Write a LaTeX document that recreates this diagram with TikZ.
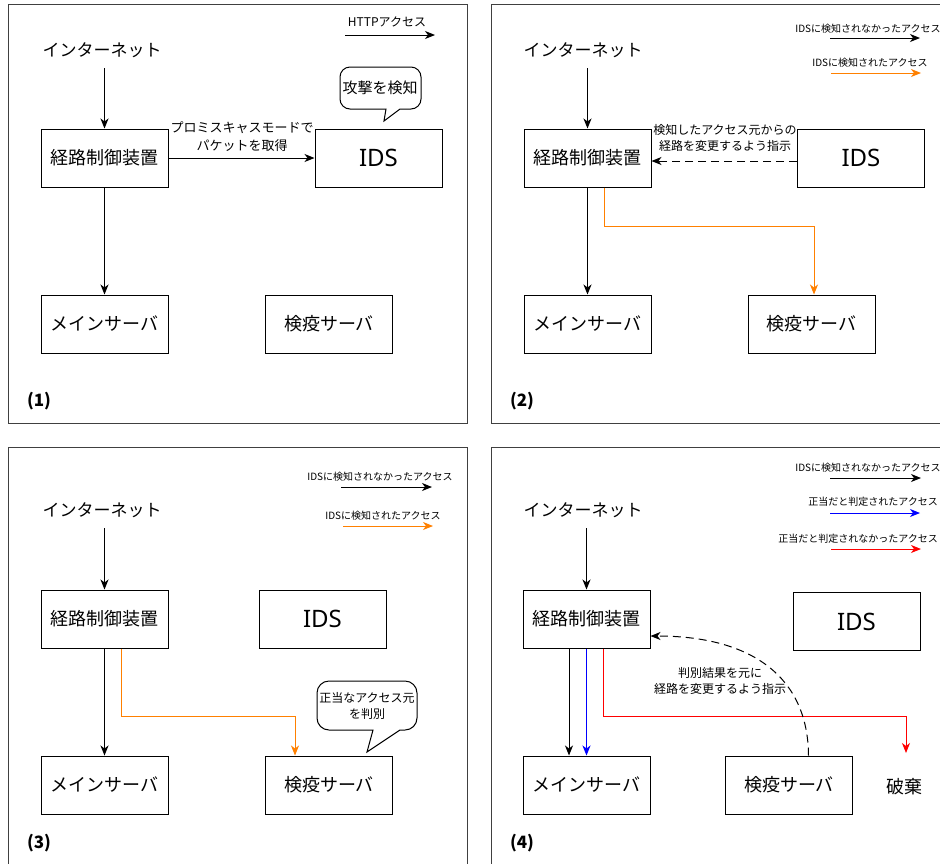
\documentclass[tikz,border=0pt]{standalone}
\usepackage{fontspec}
\setmainfont{Noto Sans CJK JP}
\newfontfamily\latinfont{Noto Sans}
\usetikzlibrary{arrows.meta}
\definecolor{acorange}{HTML}{FF8000}
\definecolor{acblue}{HTML}{0000FF}
\definecolor{acred}{HTML}{FF0000}
\begin{document}
\begin{tikzpicture}[x=1pt,y=-1pt,
  frame/.style={draw=black!75, line width=0.9pt},
  box/.style={draw, line width=1pt, minimum width=127pt, minimum height=58pt, inner sep=0pt, font=\fontsize{18}{21}\selectfont},
  idsbox/.style={box, font=\fontsize{24}{28}\selectfont\latinfont},
  inet/.style={minimum height=36pt, inner sep=0pt, font=\fontsize{17}{20}\selectfont},
  arr/.style={line width=1pt, -{Stealth[length=10pt,width=8pt,inset=3pt]}},
  lbl/.style={align=center, inner sep=0pt, font=\fontsize{12}{16}\selectfont},
  leg/.style={inner sep=0pt, font=\fontsize{10}{12}\selectfont},
  num/.style={inner sep=0pt, font=\fontsize{17}{20}\selectfont\bfseries},
  bubble/.style={draw, line width=1pt, fill=white},
  dsh/.style={dash pattern=on 8pt off 5pt}
]
\path[use as bounding box, fill=white] (0,0) rectangle (940,863);
\clip (0,0) rectangle (940,863);

% frames
\draw[frame] (8,4) rectangle (467,423);
\draw[frame] (491,4) rectangle (950,423);
\draw[frame] (8,447) rectangle (467,880);
\draw[frame] (491,447) rectangle (950,880);

% ---------- Panel 1 ----------
\node[inet] (i1) at (102,50) {インターネット};
\node[box] (r1) at (104.5,158) {経路制御装置};
\node[idsbox] (d1) at (378.5,158) {IDS};
\node[box] (m1) at (104.5,324) {メインサーバ};
\node[box] (q1) at (329,324) {検疫サーバ};
\draw[arr] (r1.north |- i1.south) -- (r1.north);
\draw[arr] (r1) -- (d1);
\node[lbl, font=\fontsize{13}{18}\selectfont] (t1) at (242,136.5) {プロミスキャスモードで\\パケットを取得};
\draw[arr] (r1) -- (m1);
\node[leg, font=\fontsize{12}{14}\selectfont] (l1) at (387,22) {HTTPアクセス};
\coordinate (l1a) at (345,35); \coordinate (l1b) at (435,35);
\draw[arr] (l1a) -- (l1b);
\draw[bubble] (400,109) -- (384,121) -- (386,109) [rounded corners=10pt] -- (340,109) -- (340,67) -- (421,67) -- (421,109) -- (400,109);
\node[inner sep=0pt, font=\fontsize{15}{18}\selectfont] (b1) at (380,88) {攻撃を検知};
\node[num] (n1) at (39,401) {(1)};

% ---------- Panel 2 ----------
\node[inet] (i2) at (583,50) {インターネット};
\node[box] (r2) at (587.5,158) {経路制御装置};
\node[idsbox] (d2) at (861,158) {IDS};
\node[box] (m2) at (587.5,324) {メインサーバ};
\node[box] (q2) at (811.5,324) {検疫サーバ};
\draw[arr] (r2.north |- i2.south) -- (r2.north);
\draw[arr, dsh] ([yshift=-3pt]d2.west) -- ([yshift=-3pt]r2.east);
\node[lbl] (t2) at (725,138) {検知したアクセス元からの\\経路を変更するよう指示};
\draw[arr] (r2) -- (m2);
\draw[arr, acorange] ([xshift=16.5pt]r2.south) -- ++(0,39) -| ([xshift=2.5pt]q2.north);
\node[leg] (l2a) at (868,29) {IDSに検知されなかったアクセス};
\coordinate (l2a1) at (830,38); \coordinate (l2a2) at (920,38);
\draw[arr] (l2a1) -- (l2a2);
\node[leg] (l2b) at (870,63) {IDSに検知されたアクセス};
\coordinate (l2b1) at (831,73); \coordinate (l2b2) at (921,73);
\draw[arr, acorange] (l2b1) -- (l2b2);
\node[num] (n2) at (522,401) {(2)};

% ---------- Panel 3 ----------
\node[inet] (i3) at (102,510) {インターネット};
\node[box] (r3) at (104.5,619) {経路制御装置};
\node[idsbox] (d3) at (322.5,619) {IDS};
\node[box] (m3) at (104.5,785) {メインサーバ};
\node[box] (q3) at (329,785) {検疫サーバ};
\draw[arr] (r3.north |- i3.south) -- (r3.north);
\draw[arr] (r3) -- (m3);
\draw[arr, acorange] ([xshift=16.5pt]r3.south) -- ++(0,68) -| ([xshift=-34pt]q3.north);
\draw[bubble] (400,730) -- (367,752) -- (373,730) [rounded corners=12pt] -- (317,730) -- (317,681) -- (417,681) -- (417,730) -- (400,730);
\node[lbl] (b3) at (367,706) {正当なアクセス元\\を判別};
\node[leg] (l3a) at (380,477) {IDSに検知されなかったアクセス};
\coordinate (l3a1) at (341,487); \coordinate (l3a2) at (432,487);
\draw[arr] (l3a1) -- (l3a2);
\node[leg] (l3b) at (383,516) {IDSに検知されたアクセス};
\coordinate (l3b1) at (343,526); \coordinate (l3b2) at (433,526);
\draw[arr, acorange] (l3b1) -- (l3b2);
\node[num] (n3) at (39,843) {(3)};

% ---------- Panel 4 ----------
\node[inet] (i4) at (583,510) {インターネット};
\node[box] (r4) at (586.5,619) {経路制御装置};
\node[idsbox] (d4) at (856.5,621.5) {IDS};
\node[box] (m4) at (586.5,785) {メインサーバ};
\node[box] (q4) at (789,785) {検疫サーバ};
\node[inner sep=0pt, font=\fontsize{18}{21}\selectfont] (h4) at (904,787) {破棄};
\coordinate (h4in) at (906,753);
\draw[arr] (r4.north |- i4.south) -- (r4.north);
\draw[arr] ([xshift=-17.5pt]r4.south) -- ([xshift=-17.5pt]m4.north);
\draw[arr, acblue] (r4.south) -- (m4.north);
\draw[arr, acred] ([xshift=16.5pt]r4.south) -- ++(0,68) -| (h4in);
\draw[arr, dsh] ([xshift=19.5pt]q4.north) .. controls (808,678) and (753,636) .. ([yshift=-17pt]r4.east);
\node[lbl] (t4) at (720,680.5) {判別結果を元に\\経路を変更するよう指示};
\node[leg] (l4a) at (868,468) {IDSに検知されなかったアクセス};
\coordinate (l4a1) at (830,478); \coordinate (l4a2) at (921,478);
\draw[arr] (l4a1) -- (l4a2);
\node[leg] (l4b) at (873,502) {正当だと判定されたアクセス};
\coordinate (l4b1) at (830,513); \coordinate (l4b2) at (920,513);
\draw[arr, acblue] (l4b1) -- (l4b2);
\node[leg] (l4c) at (858,539) {正当だと判定されなかったアクセス};
\coordinate (l4c1) at (831,549); \coordinate (l4c2) at (921,549);
\draw[arr, acred] (l4c1) -- (l4c2);
\node[num] (n4) at (522,843) {(4)};
\end{tikzpicture}
\end{document}
